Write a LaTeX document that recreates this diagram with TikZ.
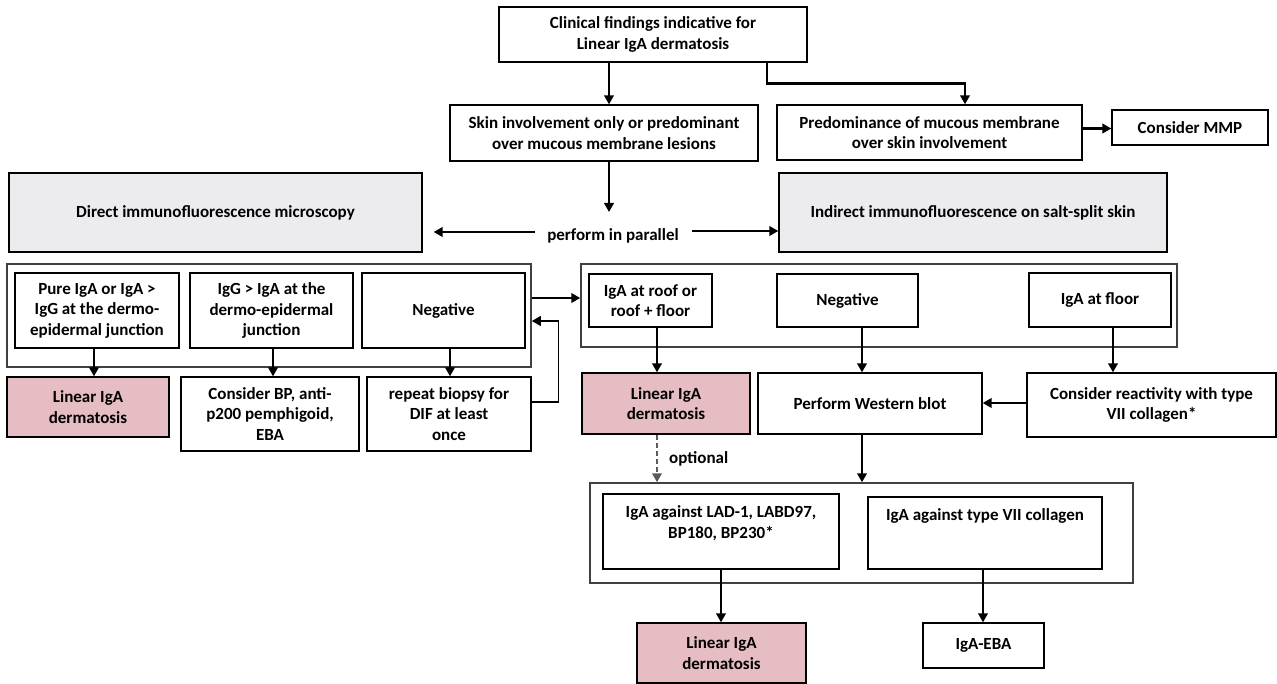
\documentclass[tikz,border=0pt]{standalone}
\usepackage{fontspec}
\setmainfont{Carlito}
\usetikzlibrary{arrows.meta}
\definecolor{pinkfill}{RGB}{230,189,194}
\definecolor{grayfill}{RGB}{236,236,239}
\definecolor{contgray}{RGB}{64,64,64}
\definecolor{dashgray}{RGB}{90,90,90}
\begin{document}
\begin{tikzpicture}[x=1pt,y=-1pt,
  every node/.style={font=\bfseries\fontsize{17}{20.5}\selectfont, align=center, inner sep=0pt},
  box/.style={draw=black, line width=1.3pt, fill=white},
  pinkbox/.style={box, fill=pinkfill},
  graybox/.style={box, fill=grayfill},
  cont/.style={draw=contgray, line width=1.5pt},
  arr/.style={line width=2.5pt, -{Triangle[length=9pt,width=9.5pt]}},
  thinline/.style={line width=1.3pt},
  dasharr/.style={draw=dashgray, line width=2.2pt, dash pattern=on 5pt off 3pt, -{Triangle[length=9pt,width=9.5pt]}},
]
\useasboundingbox (0,0) rectangle (1277,684);

% top level
\node[box, minimum width=308, minimum height=55] (top) at (653,34.5) {Clinical findings indicative for\\Linear IgA dermatosis};
\node[box, minimum width=308, minimum height=56] (skin) at (604,133) {Skin involvement only or predominant\\over mucous membrane lesions};
\node[box, minimum width=305, minimum height=55] (pred) at (929.5,132.5) {Predominance of mucous membrane\\over skin involvement};
\node[box, minimum width=156, minimum height=35] (mmp) at (1190,127.5) {Consider MMP};
\node[graybox, minimum width=413, minimum height=79] (dif) at (215.5,212.5) {Direct immunofluorescence microscopy};
\node[graybox, minimum width=388, minimum height=79] (iif) at (973,212.5) {Indirect immunofluorescence on salt-split skin};
\node (par) at (613,236) {perform in parallel};

% left container
\node[cont, minimum width=524, minimum height=103] (lcont) at (269,315.5) {};
\node[box, minimum width=164, minimum height=75] (A) at (97,310.5) {Pure IgA or IgA >\\IgG at the dermo-\\epidermal junction};
\node[box, minimum width=163, minimum height=75] (B) at (271.5,310.5) {IgG > IgA at the\\dermo-epidermal\\junction};
\node[box, minimum width=163, minimum height=75] (C) at (443.5,310.5) {Negative};
\node[pinkbox, minimum width=162, minimum height=60] (p1) at (88,407) {Linear IgA\\dermatosis};
\node[box, minimum width=178, minimum height=74] (cbp) at (270,414) {Consider BP, anti-\\p200 pemphigoid,\\EBA};
\node[box, minimum width=164, minimum height=74] (rep) at (449,414) {repeat biopsy for\\DIF at least\\once};

% right container
\node[cont, minimum width=596, minimum height=83] (rcont) at (879,305.5) {};
\node[box, minimum width=123, minimum height=53] (D) at (650.5,300.5) {IgA at roof or\\roof + floor};
\node[box, minimum width=141, minimum height=53] (E) at (847.5,300.5) {Negative};
\node[box, minimum width=142, minimum height=54] (F) at (1100,300) {IgA at floor};
\node[pinkbox, minimum width=168, minimum height=61] (p2) at (666,403.5) {Linear IgA\\dermatosis};
\node[box, minimum width=224, minimum height=61] (wb) at (870,403.5) {Perform Western blot};
\node[box, minimum width=249, minimum height=64] (rx) at (1151.5,405) {Consider reactivity with type\\VII collagen*};
\node[anchor=west] (opt) at (669,459) {optional};

% bottom container
\node[cont, minimum width=543, minimum height=100] (bcont) at (861.5,533) {};
\node[box] (G) at (721,531.5) {\parbox[c][75pt][t]{236pt}{\centering\vspace*{12pt}IgA against LAD-1, LABD97,\\BP180, BP230*}};
\node[box] (H) at (985,533) {\parbox[c][72pt][t]{234pt}{\centering\vspace*{12pt}IgA against type VII collagen}};
\node[pinkbox, minimum width=169, minimum height=60] (p3) at (721.5,653) {Linear IgA\\dermatosis};
\node[box, minimum width=121, minimum height=45] (eba) at (983.5,645.5) {IgA-EBA};

% coordinates
\coordinate (a1) at ([xshift=-44pt]top.south);
\coordinate (a2) at ([xshift=114pt]top.south);
\coordinate (a2e) at ([xshift=35.5pt]pred.north);
\coordinate (a4) at ([yshift=4pt]pred.east);
\coordinate (a3) at ([xshift=5pt]skin.south);
\coordinate (pt) at (609,212);
\coordinate (pl) at (535,232);
\coordinate (pr) at (692,231);
\coordinate (cA) at ([xshift=-3pt]A.south);
\coordinate (cB) at ([xshift=1.5pt]B.south);
\coordinate (cC) at ([xshift=6.5pt]C.south);
\coordinate (fb1) at ([yshift=12pt]rep.east);
\coordinate (fb2) at ([yshift=-5.5pt]lcont.east);
\coordinate (fb3) at ([xshift=27pt]fb2);
\coordinate (lr) at ([yshift=17.5pt]lcont.east);
\coordinate (cD) at ([xshift=6.5pt]D.south);
\coordinate (cE) at ([xshift=14.5pt]E.south);
\coordinate (cF) at ([xshift=13pt]F.south);
\coordinate (rxw) at ([yshift=2pt]rx.west);
\coordinate (cp2) at ([xshift=-9pt]p2.south);
\coordinate (cwb) at ([xshift=-8pt]wb.south);
\coordinate (cH) at ([xshift=-2pt]H.south);

% connectors
\draw[arr] (a1) -- (a1 |- skin.north);
\draw[arr] (a2) -- ++(0,21) -| (a2e);
\draw[arr] (a4) -- (a4 -| mmp.west);
\draw[arr] (a3) -- (pt);
\draw[arr, shorten >=11pt] (pl) -- (dif.east |- pl);
\draw[arr] (pr) -- (pr -| iif.west);

\draw[arr] (cA) -- (cA |- p1.north);
\draw[arr] (cB) -- (cB |- cbp.north);
\draw[arr] (cC) -- (cC |- rep.north);
\draw[thinline] (fb1) -| (fb3) -- ([xshift=14pt]fb2);
\draw[arr] ([xshift=16pt]fb2) -- (fb2);
\draw[arr] (lr) -- (lr -| rcont.west);

\draw[arr] (cD) -- (cD |- p2.north);
\draw[arr] (cE) -- (cE |- wb.north);
\draw[arr] (cF) -- (cF |- rx.north);
\draw[arr] (rxw) -- (rxw -| wb.east);
\draw[dasharr] (cp2) -- (cp2 |- bcont.north);
\draw[arr] (cwb) -- (cwb |- bcont.north);

\draw[arr] (G.south) -- (G.south |- p3.north);
\draw[arr] (cH) -- (cH |- eba.north);
\end{tikzpicture}
\end{document}
